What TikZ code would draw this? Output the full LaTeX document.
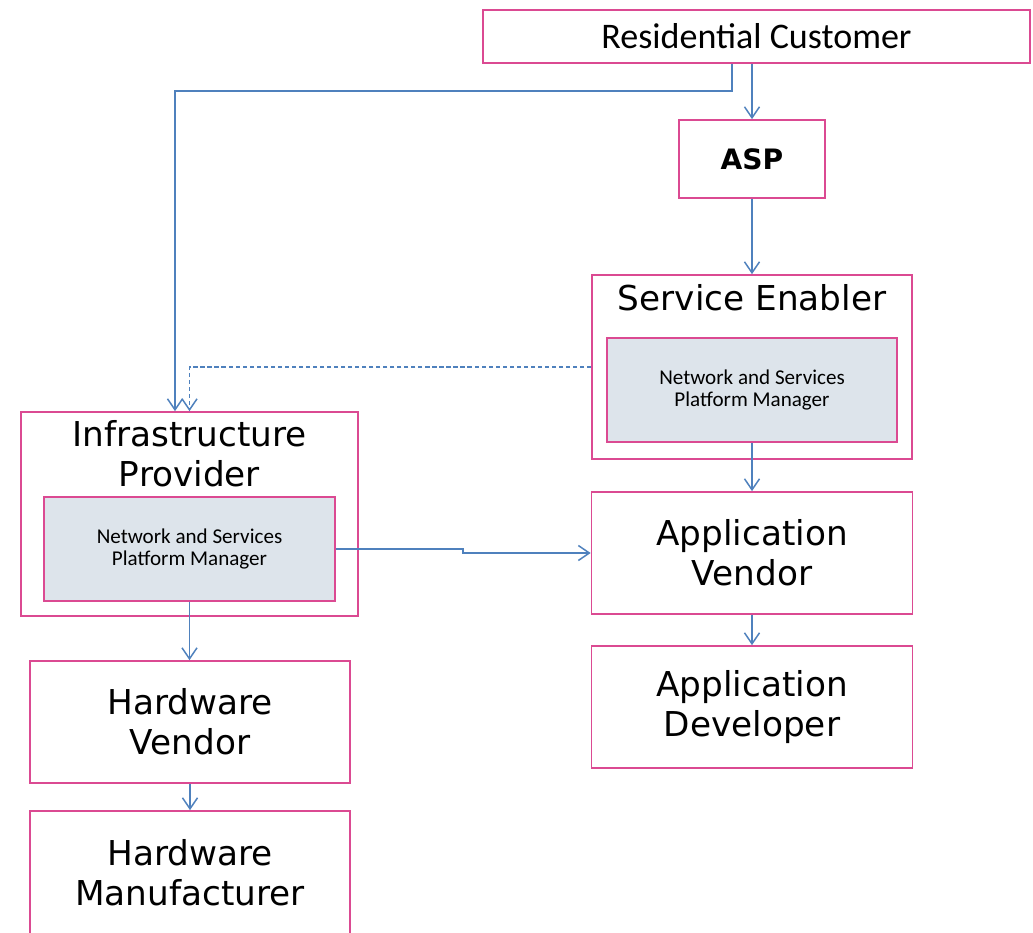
\documentclass[tikz,border=0pt]{standalone}
\usepackage{fontspec}
\setmainfont{DejaVu Sans}
\newfontfamily\calfont{Carlito}
\usepackage{xcolor}
\usepackage{tikz}
\usetikzlibrary{arrows.meta, positioning}
\definecolor{rolepink}{HTML}{DB4A92}
\definecolor{flowblue}{HTML}{4F81BD}
\definecolor{mgrgray}{HTML}{DDE4EB}
\tikzset{
  rolebox/.style={rectangle,draw=rolepink,line width=1pt,inner sep=0pt,align=center,font=\fontsize{19.5}{22.8}\selectfont},
  mgrbox/.style={rolebox,fill=mgrgray,font=\calfont\fontsize{12}{12}\selectfont},
  titletxt/.style={inner sep=0pt,align=center,font=\fontsize{19.5}{22.8}\selectfont},
  flow/.style={-{Straight Barb[length=2.2mm,width=3mm]},draw=flowblue,line width=0.85pt},
  flowdash/.style={flow,dash pattern=on 2.4pt off 1.6pt},
}

\begin{document}
\begin{tikzpicture}[x=0.02cm,y=-0.02cm]
  \useasboundingbox (0,0) rectangle (1033,932);
  % customer and the provider chain on the right
  \node[rolebox,minimum width=10.94cm,minimum height=1.06cm,font=\calfont\fontsize{20.5}{24}\selectfont] (nRC) at (756.5,36.5) {Residential Customer};
  \node[rolebox,minimum width=2.92cm,minimum height=1.56cm,font=\fontsize{16}{19}\selectfont\bfseries] (nASP) at (752,159) {ASP};
  \node[rolebox,minimum width=6.4cm,minimum height=3.68cm] (nSE) at (752,367) {};
  \node[titletxt,anchor=base] (nSEt) at (752,310) {Service Enabler};
  \node[mgrbox,minimum width=5.8cm,minimum height=2.08cm] (nSEm) at (752,390) {Network and Services\\Platform Manager};
  \node[rolebox,minimum width=6.42cm,minimum height=2.44cm] (nAV) at (752,553) {Application\\Vendor};
  \node[rolebox,minimum width=6.42cm,minimum height=2.44cm] (nAD) at (752,707) {Application\\Developer};
  % infrastructure side
  \node[rolebox,minimum width=6.74cm,minimum height=4.08cm] (nIP) at (189.5,514) {};
  \node[titletxt,anchor=north] (nIPt) at (189.5,420) {Infrastructure\\Provider};
  \node[mgrbox,minimum width=5.82cm,minimum height=2.08cm] (nIPm) at (189.5,549) {Network and Services\\Platform Manager};
  \node[rolebox,minimum width=6.4cm,minimum height=2.44cm] (nHV) at (190,722) {Hardware\\Vendor};
  \node[rolebox,minimum width=6.4cm,minimum height=2.48cm] (nHM) at (190,873) {Hardware\\Manufacturer};
  % connectors
  \draw[flow] (nRC.south -| 732,0) |- (175,91) -- (nIP.north -| 175,0);
  \draw[flow] (nRC.south -| nASP.north) -- (nASP.north);
  \draw[flow] (nASP.south) -- (nSE.north);
  \draw[flowdash] (nSE.west) -| (nIP.north);
  \draw[flow] (nSEm.south) -- (nAV.north);
  \draw[flow] (nAV.south) -- (nAD.north);
  \draw[flow] (nIPm.east) -- (nIPm.east -| 463,0) |- (nAV.west);
  \draw[flow] (nIPm.south) -- (nIPm.south |- nHV.north);
  \draw[flow] (nHV.south) -- (nHM.north);
\end{tikzpicture}
\end{document}
